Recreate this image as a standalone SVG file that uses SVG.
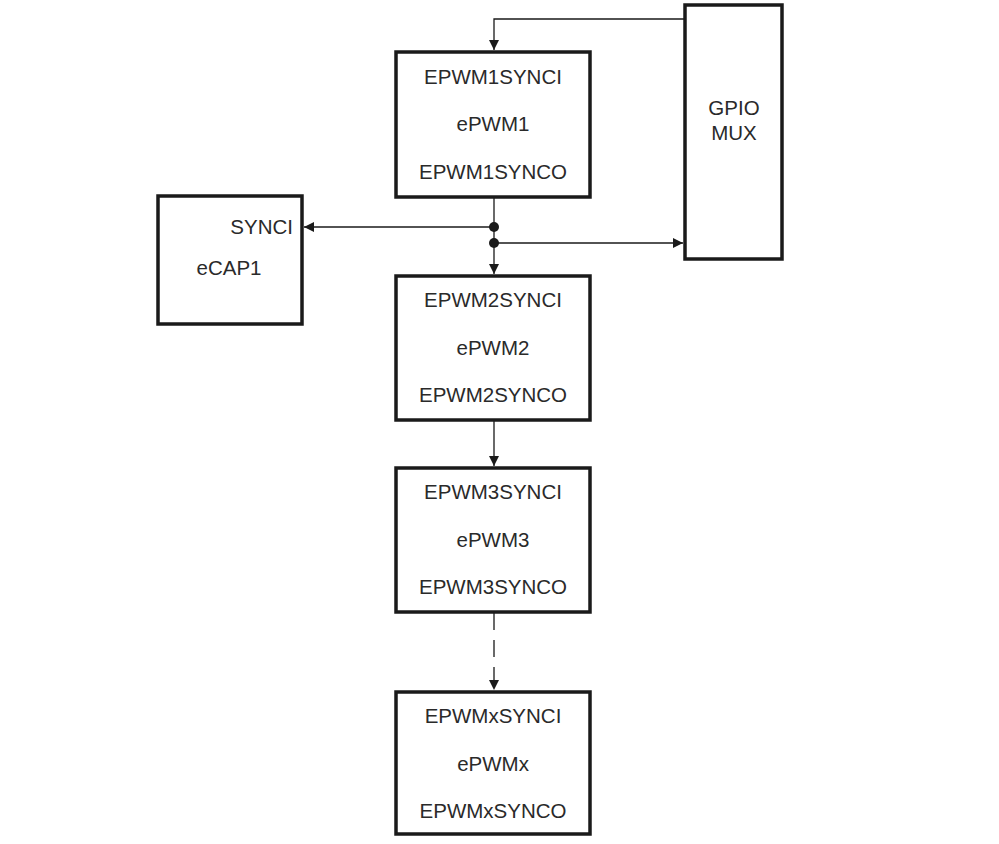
<svg xmlns="http://www.w3.org/2000/svg" width="999" height="844" viewBox="0 0 999 844">
<style>
.box{fill:#fff;stroke:#1a1a1a;stroke-width:3.5}
.t{font-family:"Liberation Sans",Arial,sans-serif;font-size:20.5px;fill:#2a2a2a;text-anchor:middle}
.w{fill:none;stroke:#1a1a1a;stroke-width:1.3}
</style>
<defs>
<marker id="a" viewBox="0 0 10 10" refX="10" refY="5" markerWidth="10" markerHeight="10" markerUnits="userSpaceOnUse" orient="auto">
<path d="M0,0 L10,5 L0,10 Z" fill="#1a1a1a"/>
</marker>
</defs>
<rect width="999" height="844" fill="#fff"/>
<g id="connectors">
<path class="w" d="M684,19 H494 V50" marker-end="url(#a)"/>
<path class="w" d="M494,198 V274" marker-end="url(#a)"/>
<path class="w" d="M494,227 H304" marker-end="url(#a)"/>
<path class="w" d="M494,243 H683" marker-end="url(#a)"/>
<path class="w" d="M494,421 V466" marker-end="url(#a)"/>
<path class="w" d="M494,613 V690" stroke-dasharray="17,10" marker-end="url(#a)"/>
<circle cx="494" cy="227" r="5" fill="#1a1a1a"/>
<circle cx="494" cy="243" r="5" fill="#1a1a1a"/>
</g>
<g id="gpio">
<rect class="box" x="685" y="5" width="97" height="254"/>
<text class="t" x="734" y="115">GPIO</text>
<text class="t" x="734" y="140">MUX</text>
</g>
<g id="epwm1">
<rect class="box" x="396" y="52" width="194" height="145"/>
<text class="t" x="493" y="84">EPWM1SYNCI</text>
<text class="t" x="493" y="131">ePWM1</text>
<text class="t" x="493" y="179">EPWM1SYNCO</text>
</g>
<g id="ecap1">
<rect class="box" x="158" y="196" width="144" height="128"/>
<text class="t" x="293" y="234" style="text-anchor:end">SYNCI</text>
<text class="t" x="229" y="275">eCAP1</text>
</g>
<g id="epwm2">
<rect class="box" x="396" y="276" width="194" height="144"/>
<text class="t" x="493" y="307">EPWM2SYNCI</text>
<text class="t" x="493" y="355">ePWM2</text>
<text class="t" x="493" y="402">EPWM2SYNCO</text>
</g>
<g id="epwm3">
<rect class="box" x="396" y="468" width="194" height="144"/>
<text class="t" x="493" y="499">EPWM3SYNCI</text>
<text class="t" x="493" y="547">ePWM3</text>
<text class="t" x="493" y="594">EPWM3SYNCO</text>
</g>
<g id="epwmx">
<rect class="box" x="396" y="692" width="194" height="142"/>
<text class="t" x="493" y="723">EPWMxSYNCI</text>
<text class="t" x="493" y="771">ePWMx</text>
<text class="t" x="493" y="818">EPWMxSYNCO</text>
</g>
</svg>
